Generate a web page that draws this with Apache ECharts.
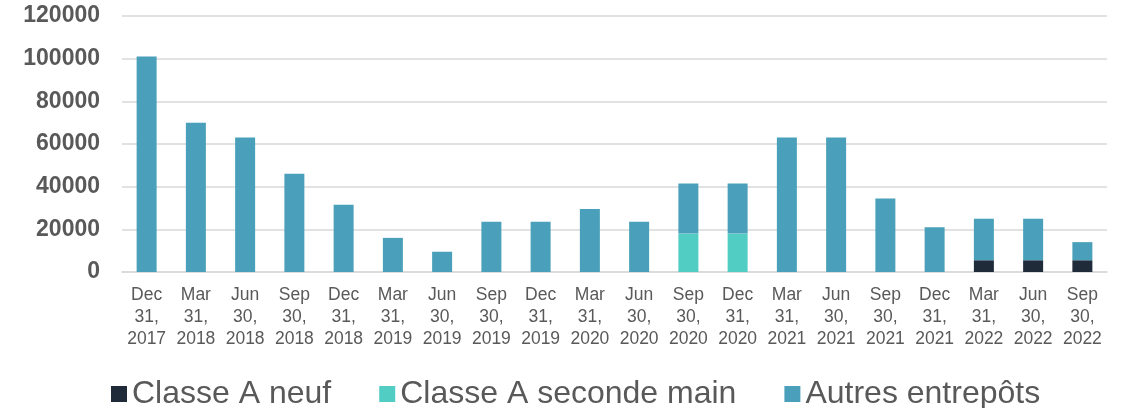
<!DOCTYPE html>
<html>
<head>
<meta charset="utf-8">
<script src="https://cdn.jsdelivr.net/npm/echarts@6/dist/echarts.min.js"></script>
<style>
  html, body { margin: 0; padding: 0; background: #fff; }
  #chart { width: 1125px; height: 408px; }
</style>
</head>
<body>
<div id="chart"></div>
<script>
// 季度
const categories = [
  'Dec\n31,\n2017', 'Mar\n31,\n2018', 'Jun\n30,\n2018', 'Sep\n30,\n2018', 'Dec\n31,\n2018',
  'Mar\n31,\n2019', 'Jun\n30,\n2019', 'Sep\n30,\n2019', 'Dec\n31,\n2019', 'Mar\n31,\n2020',
  'Jun\n30,\n2020', 'Sep\n30,\n2020', 'Dec\n31,\n2020', 'Mar\n31,\n2021', 'Jun\n30,\n2021',
  'Sep\n30,\n2021', 'Dec\n31,\n2021', 'Mar\n31,\n2022', 'Jun\n30,\n2022', 'Sep\n30,\n2022',
]
const seriesNames = ['Classe A neuf', 'Classe A seconde main', 'Autres entrepôts']
const classeANeuf = [0, 0, 0, 0, 0, 0, 0, 0, 0, 0, 0, 0, 0, 0, 0, 0, 0, 5500, 5500, 5500]
const classeASeconde = [0, 0, 0, 0, 0, 0, 0, 0, 0, 0, 0, 18000, 18000, 0, 0, 0, 0, 0, 0, 0]
const autres = [101000, 70000, 63000, 46000, 31500, 16000, 9500, 23500, 23500, 29500,
  23500, 23500, 23500, 63000, 63000, 34500, 21000, 19500, 19500, 8500]
const yTicks = { min: 0, max: 120000, interval: 20000 }

const colors = ['#1f2b38', '#52cdc4', '#4aa0ba']
const chart = echarts.init(document.getElementById('chart'))

const series = [classeANeuf, classeASeconde, autres].map((data, i) => ({
  name: seriesNames[i],
  type: 'bar',
  stack: 'total',
  barWidth: 20,
  data,
}))

chart.setOption({
  color: colors,
  animation: false,
  textStyle: { fontFamily: '"Liberation Sans", Arial, sans-serif' },
  legend: {
    data: seriesNames,
    top: 373,
    left: 106,
    icon: 'rect',
    itemWidth: 16,
    itemHeight: 16,
    itemGap: 48,
    textStyle: { color: '#595959', fontSize: 32 },
  },
  grid: { left: 122, right: 18, top: 16, bottom: 136 },
  xAxis: {
    type: 'category',
    data: categories,
    axisLine: { lineStyle: { color: '#d9d9d9', width: 1.5 } },
    axisTick: { show: false },
    axisLabel: {
      color: '#595959',
      fontSize: 17.5,
      lineHeight: 22,
      margin: 12,
      interval: 0,
    },
  },
  yAxis: {
    type: 'value',
    ...yTicks,
    axisLine: { show: false },
    axisTick: { show: false },
    splitLine: { lineStyle: { color: '#d9d9d9', width: 1.5 } },
    axisLabel: {
      color: '#595959',
      fontSize: 23,
      fontWeight: 'bold',
      margin: 22,
      formatter: (v) => String(v), // 不要千分位
    },
  },
  series,
})
</script>
</body>
</html>
